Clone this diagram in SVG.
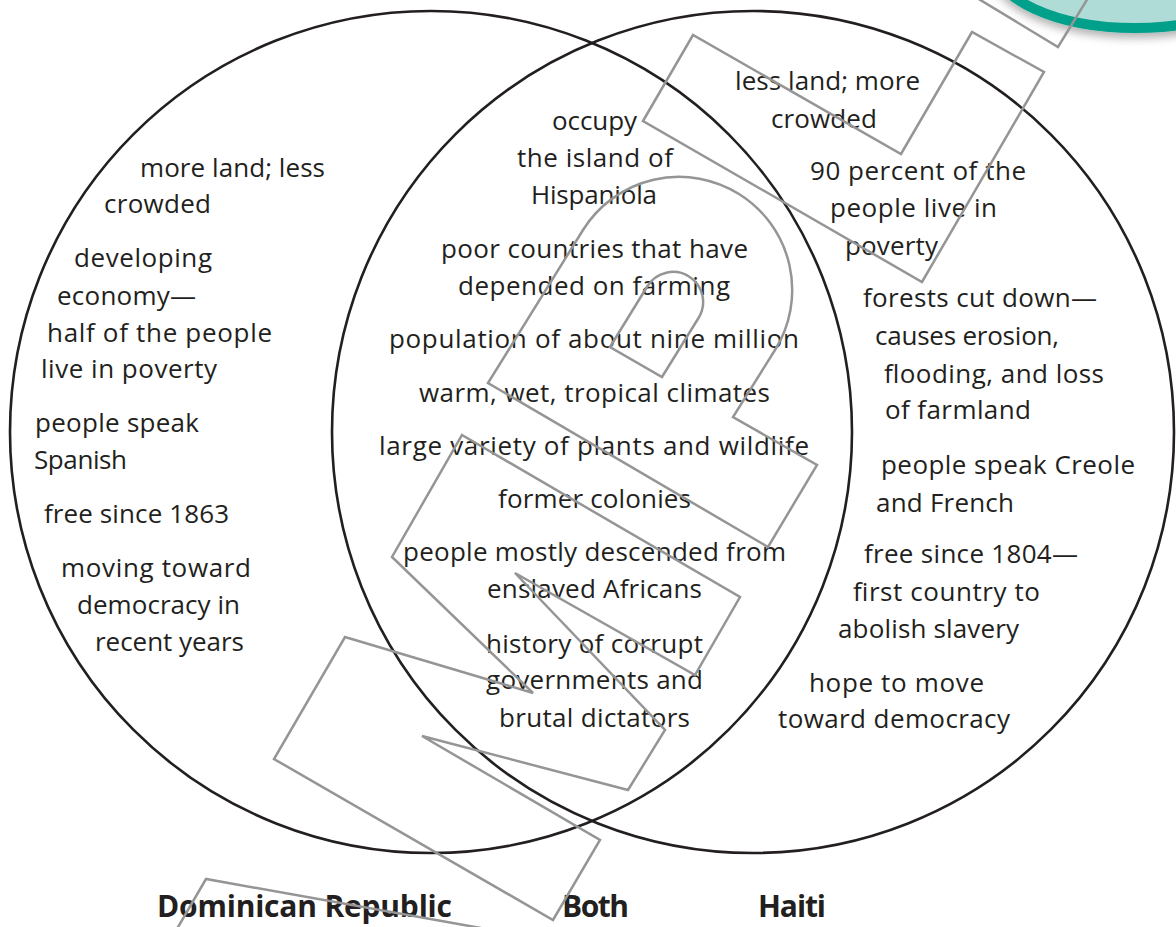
<svg xmlns="http://www.w3.org/2000/svg" width="1176" height="927" viewBox="0 0 1176 927">
  <style>
    .ring { fill: none; stroke: #231f20; stroke-width: 2.6; }
    .t { font-family: "Open Sans", "Liberation Sans", sans-serif; font-size: 26px; fill: #231f20; }
    .lbl { font-family: "Open Sans", "Liberation Sans", sans-serif; font-size: 30px; font-weight: bold; fill: #231f20; }
    .wm { fill: none; stroke: #959595; stroke-width: 2.5; stroke-linejoin: miter; }
  </style>
  <defs>
    <filter id="shadow" x="-20%" y="-50%" width="140%" height="200%">
      <feDropShadow dx="0" dy="5" stdDeviation="4" flood-color="#000000" flood-opacity="0.3"/>
    </filter>
  </defs>
  <rect width="1176" height="927" fill="#ffffff"/>

  <g id="dominican-republic">
    <circle class="ring" cx="431" cy="432" r="421"/>
    <text class="t" x="140" y="177" textLength="185">more land; less</text>
    <text class="t" x="104" y="213" textLength="107">crowded</text>
    <text class="t" x="74" y="267" textLength="138">developing</text>
    <text class="t" x="57" y="305" textLength="139">economy—</text>
    <text class="t" x="47" y="342" textLength="225">half of the people</text>
    <text class="t" x="41" y="378" textLength="176">live in poverty</text>
    <text class="t" x="35" y="432" textLength="164">people speak</text>
    <text class="t" x="34" y="469" textLength="93">Spanish</text>
    <text class="t" x="44" y="523" textLength="185">free since 1863</text>
    <text class="t" x="61" y="577" textLength="190">moving toward</text>
    <text class="t" x="77" y="614" textLength="163">democracy in</text>
    <text class="t" x="95" y="651" textLength="149">recent years</text>
  </g>

  <g id="haiti">
    <circle class="ring" cx="753" cy="432" r="421"/>
    <text class="t" x="735" y="90" textLength="185">less land; more</text>
    <text class="t" x="771" y="128" textLength="106">crowded</text>
    <text class="t" x="810" y="180" textLength="216">90 percent of the</text>
    <text class="t" x="830" y="217" textLength="167">people live in</text>
    <text class="t" x="845" y="255" textLength="93">poverty</text>
    <text class="t" x="863" y="307" textLength="234">forests cut down—</text>
    <text class="t" x="875" y="345" textLength="184">causes erosion,</text>
    <text class="t" x="884" y="383" textLength="220">flooding, and loss</text>
    <text class="t" x="885" y="419" textLength="146">of farmland</text>
    <text class="t" x="881" y="474" textLength="254">people speak Creole</text>
    <text class="t" x="876" y="512" textLength="138">and French</text>
    <text class="t" x="864" y="563" textLength="214">free since 1804—</text>
    <text class="t" x="853" y="601" textLength="187">first country to</text>
    <text class="t" x="838" y="638" textLength="181">abolish slavery</text>
    <text class="t" x="809" y="692" textLength="175">hope to move</text>
    <text class="t" x="778" y="728" textLength="232">toward democracy</text>
  </g>

  <g id="both">
    <text class="t" x="552" y="130" textLength="85">occupy</text>
    <text class="t" x="517" y="167" textLength="156">the island of</text>
    <text class="t" x="531" y="204" textLength="126">Hispaniola</text>
    <text class="t" x="441" y="258" textLength="307">poor countries that have</text>
    <text class="t" x="458" y="295" textLength="272">depended on farming</text>
    <text class="t" x="389" y="348" textLength="410">population of about nine million</text>
    <text class="t" x="419" y="402" textLength="351">warm, wet, tropical climates</text>
    <text class="t" x="379" y="455" textLength="430">large variety of plants and wildlife</text>
    <text class="t" x="498" y="508" textLength="193">former colonies</text>
    <text class="t" x="403" y="561" textLength="383">people mostly descended from</text>
    <text class="t" x="487" y="598" textLength="215">enslaved Africans</text>
    <text class="t" x="486" y="653" textLength="217">history of corrupt</text>
    <text class="t" x="486" y="689" textLength="217">governments and</text>
    <text class="t" x="499" y="727" textLength="191">brutal dictators</text>
  </g>

  <g id="labels">
    <text class="lbl" x="157" y="917" textLength="295">Dominican Republic</text>
    <text class="lbl" x="562" y="917" textLength="67">Both</text>
    <text class="lbl" x="758" y="917" textLength="68">Haiti</text>
  </g>

  <g id="connectors"></g>

  <g id="badge">
    <ellipse cx="1135" cy="-37" rx="142" ry="65" fill="#afdcd6" stroke="#00a08a" stroke-width="10" filter="url(#shadow)"/>
  </g>

  <g id="watermark">
    <polygon class="wm" points="643,121 693,35 901,154 972,32 1044,72 922,282"/>
    <polyline class="wm" points="977,-2 1058,47 1088,-2"/>
    <path class="wm" d="M488,383 L583,230 A113,113 0 0 1 775,350 L733,417 L817,465 L768,547 Z M610,347 L647.5,286 A30,30 0 0 1 698.5,318 L662,377 Z"/>
    <polygon class="wm" points="462,435 740,597 695,675 515,573 665,730 628,790 422,736 600,840 553,920 274,759 345,637 533,693 392,557"/>
    <polyline class="wm" points="174,934 206,879 520,935"/>
  </g>
</svg>
